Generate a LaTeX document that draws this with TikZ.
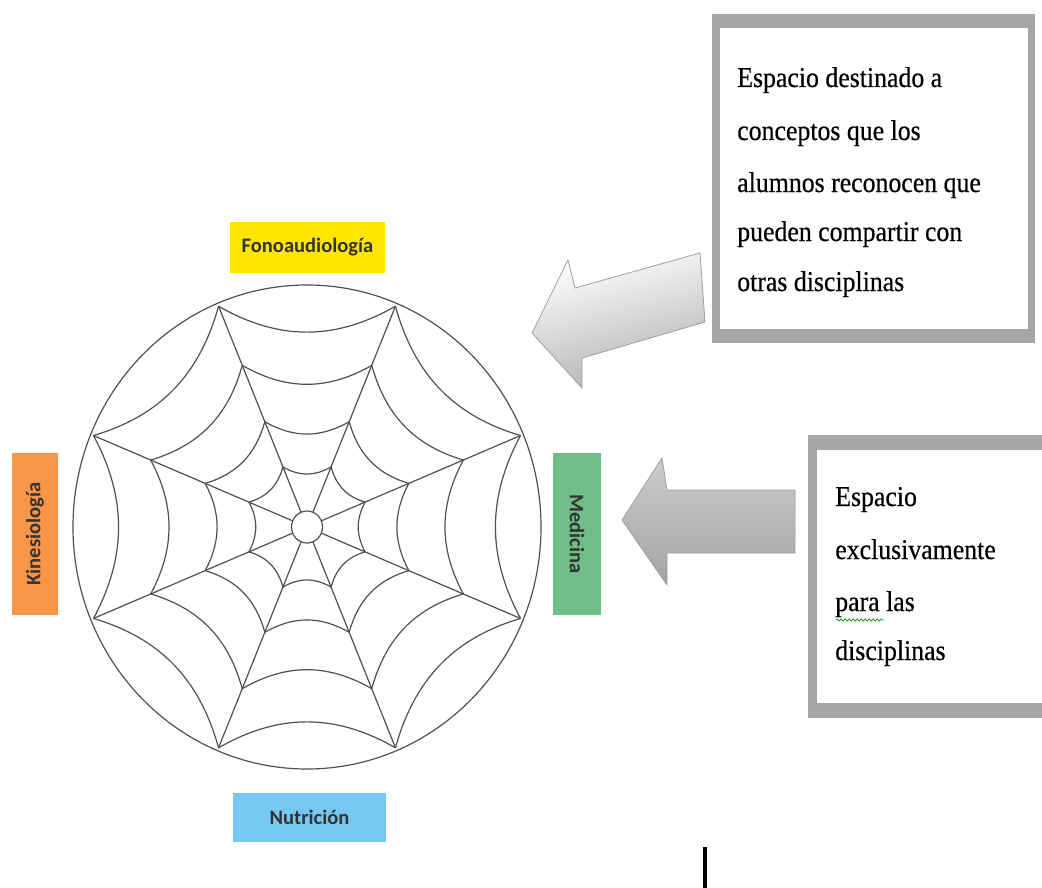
\documentclass[tikz,border=0pt]{standalone}
\usepackage{fontspec}
\setmainfont{Liberation Serif}
\newfontfamily\boxfont[FakeStretch=0.9,FakeBold=0.5]{Liberation Serif}
\newfontfamily\labfont{Carlito}
\usetikzlibrary{decorations.pathmorphing}
\definecolor{webgray}{HTML}{505050}
\definecolor{boxgray}{HTML}{A6A6A6}
\definecolor{fonoY}{HTML}{FFE600}
\definecolor{nutB}{HTML}{76C8F2}
\definecolor{kinO}{HTML}{F79646}
\definecolor{medG}{HTML}{6FBE87}
\definecolor{labtxt}{HTML}{333333}
\begin{document}
\begin{tikzpicture}[x=0.75pt,y=-0.75pt,
  web/.style={draw=webgray, line width=0.9pt},
  lab/.style={inner sep=0pt, text=labtxt, font={\labfont\bfseries\fontsize{15.4pt}{18pt}\selectfont}},
  boxtxt/.style={anchor=base west, inner sep=0pt, font={\boxfont\fontsize{21.5pt}{26pt}\selectfont}},
  blockarrow/.style={draw=gray!75, line width=0.6pt}
]
\useasboundingbox (0,0) rectangle (1042,888);

% ---- spider web ----
\begin{scope}[shift={(307,527)}, xscale=0.967]
  \coordinate (webc) at (0,0);
  \draw[web] (webc) circle (242);
  \draw[web] (webc) circle (16);
  \foreach \a in {22.5,67.5,...,337.5}
    \draw[web] (\a:16) -- (\a:239);
  \foreach \r in {65,114,175,239}
    \foreach \a in {22.5,67.5,...,337.5}
      \draw[web] (\a:\r) to[bend right=29] (\a+45:\r);
\end{scope}

% ---- discipline labels ----
\node[lab, fill=fonoY, minimum width=116pt, minimum height=38pt] (fono) at (307.5,247.5) {Fonoaudiología};
\node[lab, fill=nutB, minimum width=115pt, minimum height=37pt] (nutr) at (309.5,817.5) {Nutrición};
\node[lab, fill=kinO, rotate=90, minimum width=121.5pt, minimum height=34.5pt] (kine) at (35,534) {Kinesiología};
\node[lab, fill=medG, rotate=-90, minimum width=121.5pt, minimum height=36pt] (medi) at (577,534) {Medicina};

% ---- upper text box ----
\fill[boxgray] (712,14) rectangle (1035,343);
\fill[white] (720,28) rectangle (1028,329);
\node[boxtxt] (t1a) at (737,87) {Espacio destinado a};
\node[boxtxt] (t1b) at (737,140) {conceptos que los};
\node[boxtxt] (t1c) at (737,192) {alumnos reconocen que};
\node[boxtxt] (t1d) at (737,241) {pueden compartir con};
\node[boxtxt] (t1e) at (737,291) {otras disciplinas};

% ---- lower text box ----
\fill[boxgray] (808,435) rectangle (1042,718);
\fill[white] (817,450) rectangle (1042,703);
\node[boxtxt] (t2a) at (835,506) {Espacio};
\node[boxtxt] (t2b) at (835,559) {exclusivamente};
\node[boxtxt] (t2c) at (835,611) {para las};
\node[boxtxt] (t2d) at (835,660) {disciplinas};
\draw[green!60!black, line width=0.5pt, decorate, decoration={snake, amplitude=0.9pt, segment length=3pt}] (836,620) -- (884,620);

% ---- block arrows ----
\shade[blockarrow, top color=white, bottom color=gray!62, shading angle=15]
  (700,253) -- (705,322) -- (582,358) -- (582,388) -- (532,333) -- (568,260) -- (575,288) -- cycle;
\shade[blockarrow, top color=gray!40, middle color=gray!6, bottom color=gray!72]
  (622,520) -- (662,458) -- (667,490) -- (795,490) -- (795,553) -- (667,553) -- (667,585) -- cycle;

% ---- vertical bar at bottom ----
\draw[line width=3pt] (705,847) -- (705,888);
\end{tikzpicture}
\end{document}
